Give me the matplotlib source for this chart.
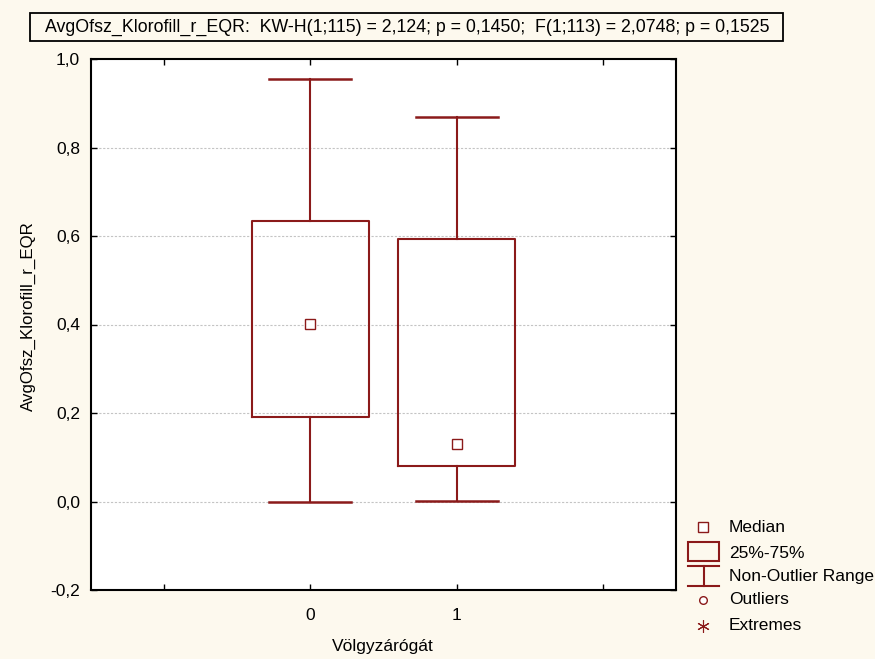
import matplotlib
matplotlib.use("Agg")
import matplotlib.pyplot as plt
from matplotlib import font_manager
from matplotlib.patches import Rectangle
from matplotlib.lines import Line2D

# box statistics
groups = ["0", "1"]
medians = [0.402, 0.130]
q1 = [0.192, 0.081]
q3 = [0.635, 0.593]
whisk_lo = [0.000, 0.001]
whisk_hi = [0.955, 0.869]

title = "AvgOfsz_Klorofill_r_EQR:  KW-H(1;115) = 2,124; p = 0,1450;  F(1;113) = 2,0748; p = 0,1525"
ylabel = "AvgOfsz_Klorofill_r_EQR"
xlabel = "Völgyzárógát"
yticks = [-0.2, 0.0, 0.2, 0.4, 0.6, 0.8, 1.0]
legend_labels = ["Median", "25%-75%", "Non-Outlier Range", "Outliers", "Extremes"]

RED = "#8B1A1A"
BG = "#FDF9EE"

names = {f.name for f in font_manager.fontManager.ttflist}
narrow = "Liberation Sans Narrow" if "Liberation Sans Narrow" in names else None
plt.rcParams["font.family"] = ["Liberation Sans", "DejaVu Sans"]

W, H = 875, 659
fig = plt.figure(figsize=(W / 100, H / 100), dpi=100, facecolor=BG)
ax = fig.add_axes([91 / W, 1 - 590 / H, (676 - 91) / W, (590 - 59) / H])
ax.set_facecolor("white")

pos = list(range(len(groups)))
stats = []
for i in pos:
    stats.append(dict(med=medians[i], q1=q1[i], q3=q3[i],
                      whislo=whisk_lo[i], whishi=whisk_hi[i], fliers=[]))
ax.bxp(stats, positions=pos, widths=0.8, showfliers=False,
       boxprops=dict(color=RED, linewidth=1.5),
       whiskerprops=dict(color=RED, linewidth=1.5),
       capprops=dict(color=RED, linewidth=1.8),
       medianprops=dict(linewidth=0), capwidths=0.56)
ax.plot(pos, medians, ls="none", marker="s", ms=7, mfc="white",
        mec=RED, mew=1.0, zorder=5)

ax.set_xlim(-1.5, 2.5)
ax.set_ylim(-0.2, 1.0)
ax.set_xticks([-1, 0, 1, 2])
ax.set_xticklabels(["", groups[0], groups[1], ""])
ax.set_yticks(yticks)
ax.set_yticklabels([f"{v:.1f}".replace(".", ",") for v in yticks])
ax.tick_params(direction="in", length=4, width=1, labelsize=12.5,
               top=True, right=True, pad=8)
ax.tick_params(axis="x", pad=13)
for s in ax.spines.values():
    s.set_linewidth(1.5)
for v in yticks[1:-1]:
    ax.axhline(v, color="#C4C4C4", lw=0.8, ls=(0, (2, 1.5)), zorder=0)

fig.text(383 / W, 1 - 647 / H, xlabel, ha="center", va="center", fontsize=12.5)
fig.text(28 / W, 1 - 316 / H, ylabel, ha="center", va="center",
         rotation=90, fontsize=12.2)

# title in a framed box
tfam = [narrow, "DejaVu Sans"] if narrow else ["Liberation Sans", "DejaVu Sans"]
tsize = 11.5 if narrow else 12.8
fig.add_artist(Rectangle((30 / W, 1 - 41 / H), (783 - 30) / W, 28 / H,
                         transform=fig.transFigure, fill=False,
                         edgecolor="black", linewidth=1.3))
fig.text(407 / W, 1 - 27 / H, title, ha="center", va="center",
         fontsize=tsize, family=tfam)

# legend drawn in figure pixels
def px(x, y):
    return x / W, 1 - y / H

tr = fig.transFigure
lx = 729
ys = [527, 553, 577, 600, 626]
fig.add_artist(Line2D(*zip(px(703, ys[0])), ls="none", marker="s", ms=7,
                      mfc="white", mec=RED, mew=1.0, transform=tr))
x0, y0 = px(688, 561)
fig.add_artist(Rectangle((x0, y0), 31 / W, 19 / H, transform=tr,
                         fill=False, edgecolor=RED, linewidth=1.5))
for yy in (566, 586):
    a, b = px(688, yy), px(719, yy)
    fig.add_artist(Line2D([a[0], b[0]], [a[1], b[1]], color=RED, lw=1.5, transform=tr))
a, b = px(703.5, 566), px(703.5, 586)
fig.add_artist(Line2D([a[0], b[0]], [a[1], b[1]], color=RED, lw=1.5, transform=tr))
fig.add_artist(Line2D(*zip(px(703, ys[3])), ls="none", marker="o", ms=5.5,
                      mfc="white", mec=RED, mew=1.0, transform=tr))
fig.add_artist(Line2D(*zip(px(703, ys[4])), ls="none", marker=(6, 2, 0), ms=9,
                      mec=RED, mew=0.8, transform=tr))
for lab, yy in zip(legend_labels, ys):
    fig.text(lx / W, 1 - yy / H, lab, ha="left", va="center", fontsize=12.5)

fig.savefig("out.png", dpi=100, facecolor=BG)
